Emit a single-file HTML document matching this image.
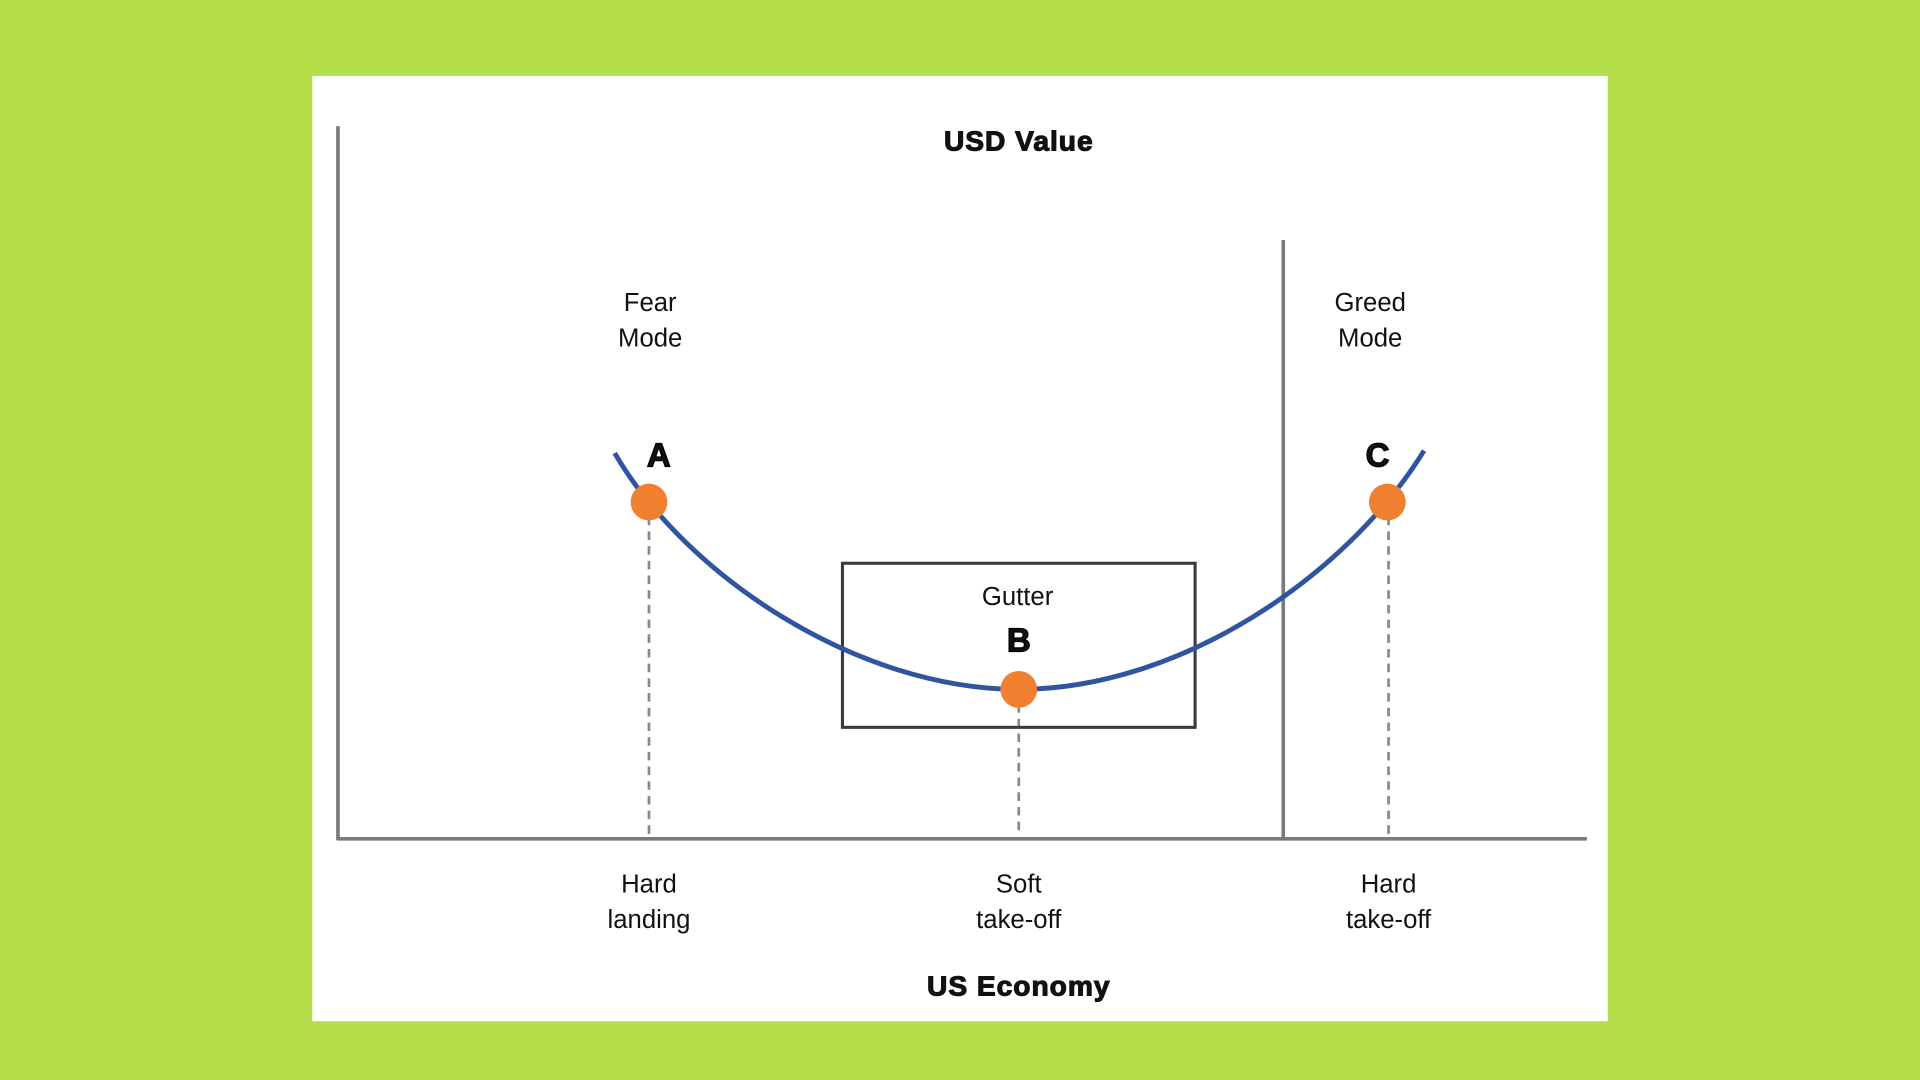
<!DOCTYPE html>
<html><head><meta charset="utf-8"><style>
html,body{margin:0;padding:0;width:1920px;height:1080px;overflow:hidden;background:#b5df4a}
svg{display:block}
text{font-family:"Liberation Sans",Arial,sans-serif;fill:#111}
</style></head><body>
<svg width="1920" height="1080" viewBox="0 0 1568 882" preserveAspectRatio="none">
<rect x="0" y="0" width="1568" height="882" fill="#b5df4a"/>
<rect x="255" y="62" width="1058" height="772" fill="#fff"/>
<g stroke="#7a7a7a" stroke-width="3" fill="none">
<line x1="276" y1="103" x2="276" y2="686"/>
<line x1="275" y1="685" x2="1296" y2="685"/>
<line x1="1048" y1="196" x2="1048" y2="685"/>
</g>
<g stroke="#888" stroke-width="2.2" stroke-dasharray="7,5" fill="none">
<line x1="530" y1="410" x2="530" y2="683"/>
<line x1="832" y1="563" x2="832" y2="683"/>
<line x1="1134" y1="410" x2="1134" y2="683"/>
</g>
<rect x="688" y="460" width="288" height="134" fill="none" stroke="#3a3a3a" stroke-width="2.5"/>
<path d="M502 370 C560 470 700 563 832 563 C964 563 1100 470 1163 368" fill="none" stroke="#2f55a0" stroke-width="4"/>
<g fill="#f07f2f">
<circle cx="530" cy="410" r="15"/>
<circle cx="832" cy="563" r="15"/>
<circle cx="1133" cy="410" r="15"/>
</g>
<g text-anchor="middle">
<text x="832" y="123" font-size="23" font-weight="bold" stroke="#111" stroke-width="0.9" letter-spacing="0.8">USD Value</text>
<text x="832" y="813" font-size="23" font-weight="bold" stroke="#111" stroke-width="0.9" letter-spacing="0.8">US Economy</text>
<text x="531" y="254" font-size="21">Fear</text>
<text x="531" y="283" font-size="21">Mode</text>
<text x="1119" y="254" font-size="21">Greed</text>
<text x="1119" y="283" font-size="21">Mode</text>
<text x="538" y="381" font-size="27" font-weight="bold" stroke="#000" stroke-width="1">A</text>
<text x="1125" y="381" font-size="27" font-weight="bold" stroke="#000" stroke-width="1">C</text>
<text x="832" y="532" font-size="27" font-weight="bold" stroke="#000" stroke-width="1">B</text>
<text x="831" y="494" font-size="21">Gutter</text>
<text x="530" y="729" font-size="21">Hard</text>
<text x="530" y="758" font-size="21">landing</text>
<text x="832" y="729" font-size="21">Soft</text>
<text x="832" y="758" font-size="21">take-off</text>
<text x="1134" y="729" font-size="21">Hard</text>
<text x="1134" y="758" font-size="21">take-off</text>
</g>
</svg>
</body></html>
